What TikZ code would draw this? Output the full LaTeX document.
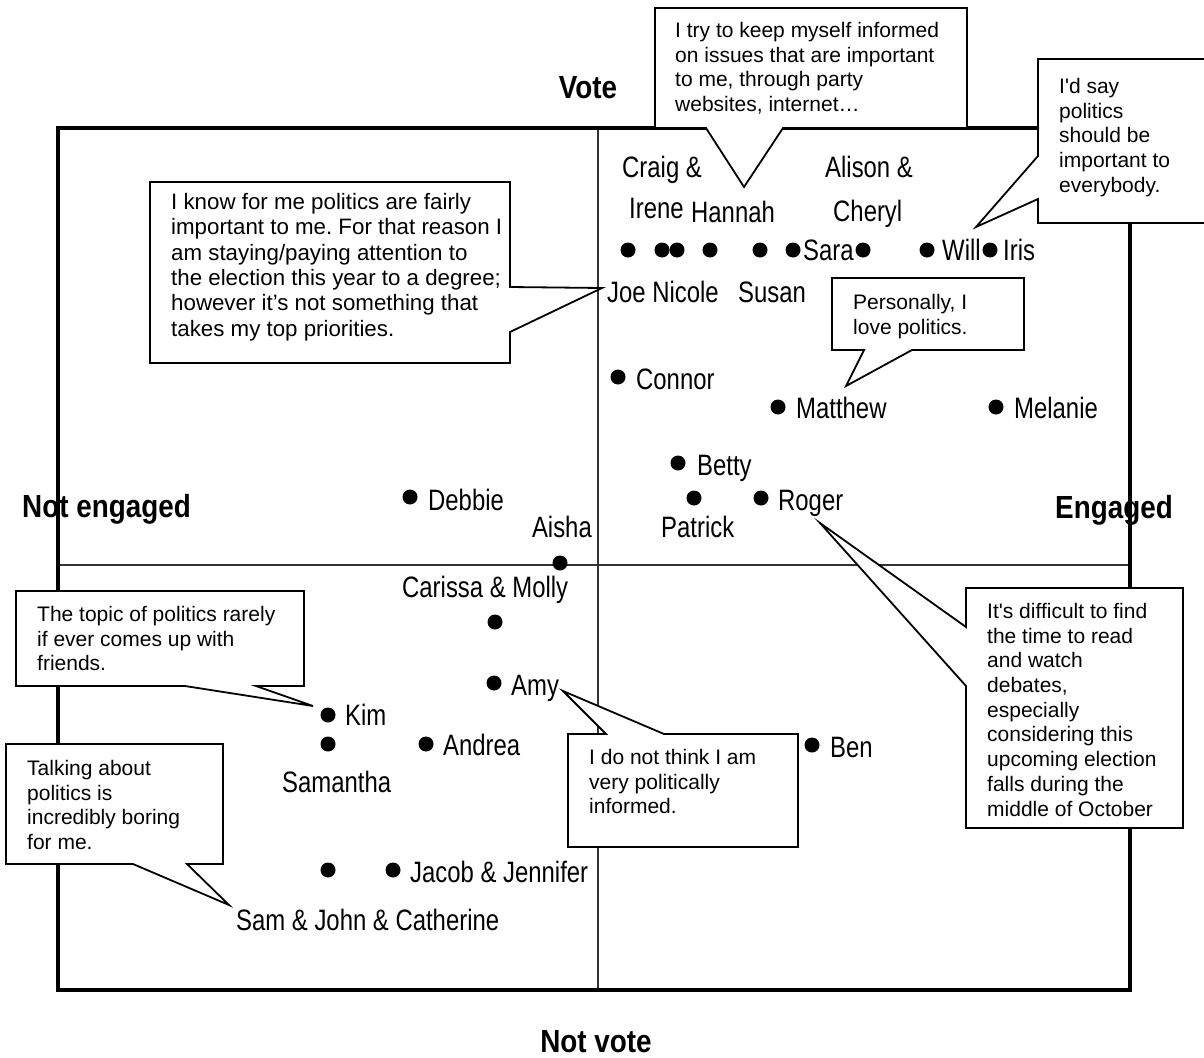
\documentclass[tikz,border=0pt]{standalone}
\usepackage{fontspec}
\setmainfont{Liberation Sans}
\newfontfamily\namefont{Liberation Sans}[FakeStretch=0.81]
\newfontfamily\axisfont{Liberation Sans}[FakeStretch=0.87]

\tikzset{
  person/.style={font=\namefont\fontsize{29.5}{30}\selectfont, inner sep=0pt, anchor=base west},
  dot/.style={circle, fill=black, minimum size=15pt, inner sep=0pt},
  axislabel/.style={font=\axisfont\bfseries\fontsize{32}{34}\selectfont, inner sep=0pt},
  bubble/.style={draw=black, fill=white, line width=1.8pt, line join=miter},
  quote/.style={font=\fontsize{21}{24.7}\selectfont, align=left, inner sep=0pt, anchor=north west},
  frameline/.style={line width=3.5pt},
  midline/.style={line width=2.5pt, black!80},
}

\begin{document}
\frenchspacing
\begin{tikzpicture}[x=1pt,y=-1pt]
\clip (0,0) rectangle (1204,1057);
\fill[white] (0,0) rectangle (1204,1057);

% quadrant lines and frame
\draw[midline] (598,128) -- (598,990);
\draw[midline] (58,565) -- (1130,565);
\draw[frameline] (58,128) rectangle (1130,990);

% axis labels
\node[axislabel, anchor=base] (vote) at (588,98) {Vote};
\node[axislabel, anchor=base] (notvote) at (596,1052) {Not vote};
\node[axislabel, anchor=base west] (noteng) at (22,517) {Not engaged};
\node[axislabel, anchor=base west] (eng) at (1055,518) {Engaged};

% top row of voters
\node[person] (craig) at (622,177) {Craig \&};
\node[person] (irene) at (629,218) {Irene};
\node[person] (hannah) at (691,222) {Hannah};
\node[person] (alison) at (825,177) {Alison \&};
\node[person] (cheryl) at (833,221) {Cheryl};
\foreach \x [count=\i] in {628,662,677,710,760,793,863,927,990}
  \node[dot] (top\i) at (\x,250) {};
\node[person] (sara) at (803,260) {Sara};
\node[person] (will) at (942,260) {Will};
\node[person] (iris) at (1003,260) {Iris};
\node[person] (joenicole) at (607,302) {Joe Nicole};
\node[person] (susan) at (738,302) {Susan};

% upper right quadrant
\node[dot] (connordot) at (618,377) {};
\node[person] (connor) at (636,389) {Connor};
\node[dot] (matthewdot) at (778,407) {};
\node[person] (matthew) at (796,418) {Matthew};
\node[dot] (melaniedot) at (996,407) {};
\node[person] (melanie) at (1014,418) {Melanie};
\node[dot] (bettydot) at (678,463) {};
\node[person] (betty) at (697,475) {Betty};
\node[dot] (patrickdot) at (694,498) {};
\node[person] (patrick) at (661,537) {Patrick};
\node[dot] (rogerdot) at (761,498) {};
\node[person] (roger) at (778,510) {Roger};

% upper left quadrant
\node[dot] (debbiedot) at (410,497) {};
\node[person] (debbie) at (428,510) {Debbie};
\node[person, anchor=base east] (aisha) at (592,537) {Aisha};
\node[dot] (aishadot) at (560,563) {};

% lower left quadrant
\node[person] (carissa) at (402,597) {Carissa \& Molly};
\node[dot] (carissadot) at (495,622) {};
\node[dot] (amydot) at (494,683) {};
\node[person] (amy) at (511,695) {Amy};
\node[dot] (kimdot) at (328,715) {};
\node[person] (kim) at (345,725) {Kim};
\node[dot] (samanthadot) at (328,744) {};
\node[person] (samantha) at (282,792) {Samantha};
\node[dot] (andreadot) at (426,744) {};
\node[person] (andrea) at (443,755) {Andrea};
\node[dot] (samdot) at (328,870) {};
\node[dot] (jacobdot) at (393,870) {};
\node[person] (jacob) at (410,882) {Jacob \& Jennifer};
\node[person] (sam) at (236,930) {Sam \& John \& Catherine};

% lower right quadrant
\node[dot] (bendot) at (812,745) {};
\node[person] (ben) at (830,757) {Ben};

% speech bubbles
\draw[bubble] (655,8) -- (967,8) -- (967,128) -- (783,128) -- (744,187) -- (706,128) -- (655,128) -- cycle;
\node[quote] (q1) at (675,22) {I try to keep myself informed\\on issues that are important\\to me, through party\\websites, internet…};

\draw[bubble] (1038,59) -- (1212,59) -- (1212,223) -- (1038,223) -- (1038,199) -- (976,227) -- (1038,156) -- cycle;
\node[quote] (q2) at (1059,78) {I\textquotesingle d say\\politics\\should be\\important to\\everybody.};

\draw[bubble] (150,182) -- (510,182) -- (510,287) -- (602,288) -- (510,332) -- (510,363) -- (150,363) -- cycle;
\node[quote, font=\fontsize{22.3}{25.4}\selectfont] (q3) at (171,193) {I know for me politics are fairly\\important to me. For that reason I\\am staying/paying attention to\\the election this year to a degree;\\however it’s not something that\\takes my top priorities.};

\draw[bubble] (832,278) -- (1024,278) -- (1024,350) -- (912,350) -- (846,386) -- (864,350) -- (832,350) -- cycle;
\node[quote] (q4) at (853,294) {Personally, I\\love politics.};

\draw[bubble] (16,591) -- (304,591) -- (304,686) -- (256,686) -- (313,706) -- (185,686) -- (16,686) -- cycle;
\node[quote] (q5) at (37,606) {The topic of politics rarely\\if ever comes up with\\friends.};

\draw[bubble] (6,744) -- (223,744) -- (223,864) -- (187,864) -- (229,905) -- (133,864) -- (6,864) -- cycle;
\node[quote] (q6) at (27,760) {Talking about\\politics is\\incredibly boring\\for me.};

\draw[bubble] (568,734) -- (606,734) -- (563,691) -- (664,734) -- (798,734) -- (798,847) -- (568,847) -- cycle;
\node[quote] (q7) at (589,749) {I do not think I am\\very politically\\informed.};

\draw[bubble] (966,588) -- (1183,588) -- (1183,828) -- (966,828) -- (966,686) -- (820,523) -- (966,627) -- cycle;
\node[quote] (q8) at (987,603) {It\textquotesingle s difficult to find\\the time to read\\and watch\\debates,\\especially\\considering this\\upcoming election\\falls during the\\middle of October};
\end{tikzpicture}
\end{document}
